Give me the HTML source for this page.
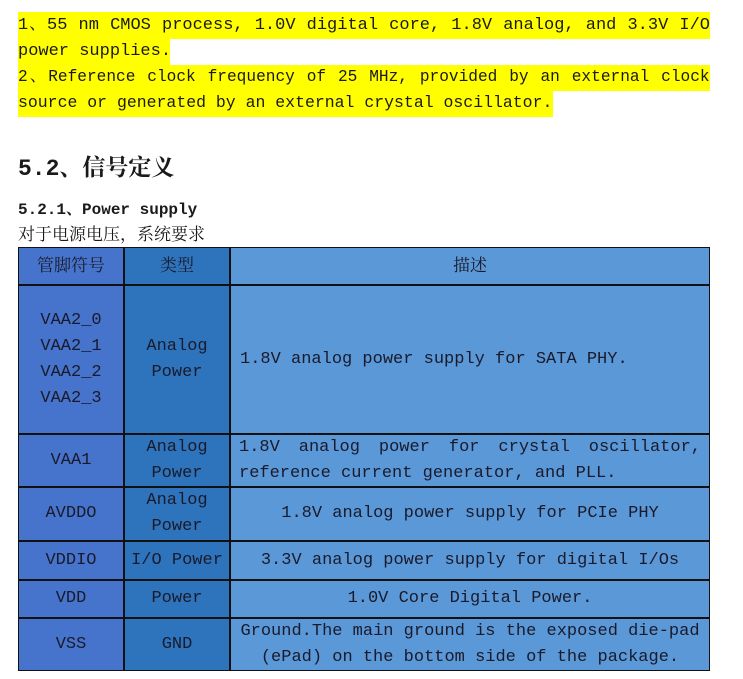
<!DOCTYPE html>
<html><head><meta charset="utf-8"><style>
body{margin:0;width:743px;height:679px;background:#fff;position:relative;overflow:hidden;font-family:"Liberation Mono","Noto Serif CJK SC",monospace;color:#1a1a1a}
.hl{position:absolute;background:#ffff00}
.t{position:absolute;white-space:nowrap;font-size:17px;line-height:26px}
.c{position:absolute;box-sizing:border-box;display:flex;align-items:center;justify-content:center;text-align:center;font-size:17px;line-height:26px;color:#1a1a2a}
.c1{background:#4674cc}.c2{background:#2e74bd}.c3{background:#5a98d8}
.j{text-align:justify;text-align-last:justify}
</style></head><body>
<div class="hl" style="left:18px;top:12px;width:692px;height:27px"></div>
<div class="hl" style="left:18px;top:39px;width:152px;height:26px"></div>
<div class="hl" style="left:18px;top:65px;width:692px;height:26px"></div>
<div class="hl" style="left:18px;top:91px;width:535px;height:26px"></div>
<div class="t j" style="left:18px;top:13px;width:692px">1、55 nm CMOS process, 1.0V digital core, 1.8V analog, and 3.3V I/O</div>
<div class="t" style="left:18px;top:39px">power supplies.</div>
<div class="t j" style="left:18px;top:65px;width:728px;transform:scaleX(0.95);transform-origin:0 0">2、Reference clock frequency of 25 MHz, provided by an external clock</div>
<div class="t" style="left:18px;top:91px;transform:scaleX(0.97);transform-origin:0 0">source or generated by an external crystal oscillator.</div>
<div class="t" style="left:18px;top:154px;font-size:23px;line-height:30px;font-weight:bold;font-family:'Liberation Mono','Noto Serif CJK SC',serif">5.2、信号定义</div>
<div class="t" style="left:18px;top:197px;font-weight:bold;font-size:16px">5.2.1、Power supply</div>
<div class="t" style="left:18px;top:222px;font-family:'Liberation Sans','Noto Serif CJK SC',serif">对于电源电压，系统要求</div>
<div style="position:absolute;left:18px;top:247px;width:692px;height:424px;background:#111"></div>
<div class="c c1" style="left:19px;top:248px;width:104px;height:36px;font-family:'Liberation Sans','Noto Serif CJK SC',serif">管脚符号</div>
<div class="c c2" style="left:125px;top:248px;width:104px;height:36px;font-family:'Liberation Sans','Noto Serif CJK SC',serif">类型</div>
<div class="c c3" style="left:231px;top:248px;width:478px;height:36px;font-family:'Liberation Sans','Noto Serif CJK SC',serif">描述</div>
<div class="c c1" style="left:19px;top:286px;width:104px;height:147px">VAA2_0<br>VAA2_1<br>VAA2_2<br>VAA2_3</div>
<div class="c c2" style="left:125px;top:286px;width:104px;height:147px">Analog<br>Power</div>
<div class="c c3" style="left:231px;top:286px;width:478px;height:147px;justify-content:flex-start;padding-left:9px">1.8V analog power supply for SATA PHY.</div>
<div class="c c1" style="left:19px;top:435px;width:104px;height:51px">VAA1</div>
<div class="c c2" style="left:125px;top:435px;width:104px;height:51px">Analog<br>Power</div>
<div class="c c3" style="left:231px;top:435px;width:478px;height:51px;display:block;padding:0 8px;text-align:left"><div class="j">1.8V analog power for crystal oscillator,</div><div>reference current generator, and PLL.</div></div>
<div class="c c1" style="left:19px;top:488px;width:104px;height:52px">AVDDO</div>
<div class="c c2" style="left:125px;top:488px;width:104px;height:52px">Analog<br>Power</div>
<div class="c c3" style="left:231px;top:488px;width:478px;height:52px">1.8V analog power supply for PCIe PHY</div>
<div class="c c1" style="left:19px;top:542px;width:104px;height:37px">VDDIO</div>
<div class="c c2" style="left:125px;top:542px;width:104px;height:37px">I/O Power</div>
<div class="c c3" style="left:231px;top:542px;width:478px;height:37px">3.3V analog power supply for digital I/Os</div>
<div class="c c1" style="left:19px;top:581px;width:104px;height:36px">VDD</div>
<div class="c c2" style="left:125px;top:581px;width:104px;height:36px">Power</div>
<div class="c c3" style="left:231px;top:581px;width:478px;height:36px">1.0V Core Digital Power.</div>
<div class="c c1" style="left:19px;top:619px;width:104px;height:51px">VSS</div>
<div class="c c2" style="left:125px;top:619px;width:104px;height:51px">GND</div>
<div class="c c3" style="left:231px;top:619px;width:478px;height:51px">Ground.The main ground is the exposed die-pad<br>(ePad) on the bottom side of the package.</div>
</body></html>
